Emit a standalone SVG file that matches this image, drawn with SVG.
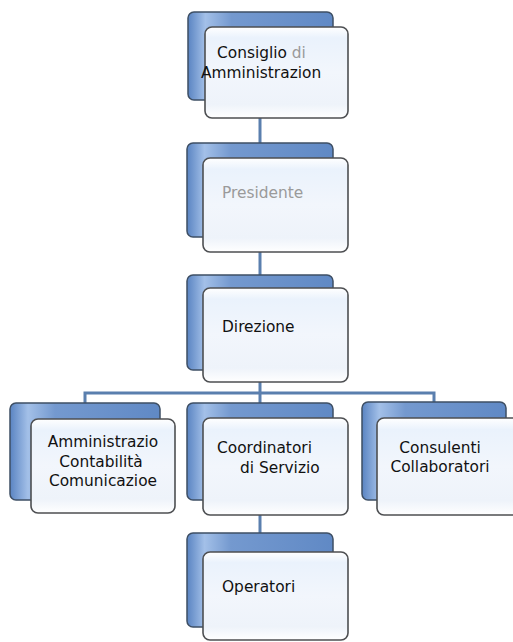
<svg xmlns="http://www.w3.org/2000/svg" width="513" height="642" viewBox="0 0 513 642">
<defs>
<linearGradient id="gb" x1="0" y1="0" x2="1" y2="0">
<stop offset="0" stop-color="#5a84c2"/>
<stop offset="0.12" stop-color="#a3c0e8"/>
<stop offset="0.3" stop-color="#7499cf"/>
<stop offset="1" stop-color="#6089c5"/>
</linearGradient>
<linearGradient id="gf" x1="0" y1="0" x2="0" y2="1">
<stop offset="0" stop-color="#ffffff"/>
<stop offset="0.12" stop-color="#eaf2fc"/>
<stop offset="0.5" stop-color="#f2f6fc"/>
<stop offset="0.85" stop-color="#eef3fa"/>
<stop offset="1" stop-color="#ffffff"/>
</linearGradient>
</defs>
<style>
.back{fill:url(#gb);stroke:#3e4f64;stroke-width:1.5}
.front{fill:url(#gf);stroke:#4d4f52;stroke-width:1.6}
.t{font-family:"DejaVu Sans",Verdana,sans-serif;font-size:15.4px;fill:#111}
.g{fill:#9a9a9a}
.c{stroke:#5a7fae;stroke-width:3;fill:none}
</style>
<rect width="513" height="642" fill="#ffffff"/>
<g id="connectors">
<line class="c" x1="260" y1="117" x2="260" y2="144"/>
<line class="c" x1="260" y1="251" x2="260" y2="276"/>
<line class="c" x1="260" y1="381" x2="260" y2="404"/>
<polyline class="c" points="85,404 85,393 434,393 434,404"/>
<line class="c" x1="260" y1="514" x2="260" y2="534"/>
</g>
<g id="n1">
<rect class="back" x="188" y="12" width="145" height="88" rx="6"/>
<rect class="front" x="205" y="27" width="143" height="91" rx="7"/>
<text class="t" x="217" y="58">Consiglio <tspan class="g">di</tspan></text>
<text class="t" x="201" y="78">Amministrazion</text>
</g>
<g id="n2">
<rect class="back" x="187" y="143" width="146" height="94" rx="6"/>
<rect class="front" x="203" y="158" width="145" height="94" rx="7"/>
<text class="t g" x="222" y="198">Presidente</text>
</g>
<g id="n3">
<rect class="back" x="187" y="275" width="146" height="95" rx="6"/>
<rect class="front" x="203" y="288" width="145" height="94" rx="7"/>
<text class="t" x="222" y="332">Direzione</text>
</g>
<g id="n4">
<rect class="back" x="10" y="403" width="150" height="97" rx="6"/>
<rect class="front" x="31" y="419" width="144" height="94" rx="7"/>
<text class="t" x="103" y="447" text-anchor="middle">Amministrazio</text>
<text class="t" x="101" y="467" text-anchor="middle">Contabilità</text>
<text class="t" x="103" y="486" text-anchor="middle">Comunicazioe</text>
</g>
<g id="n5">
<rect class="back" x="187" y="403" width="146" height="97" rx="6"/>
<rect class="front" x="203" y="418" width="145" height="97" rx="7"/>
<text class="t" x="217" y="453">Coordinatori</text>
<text class="t" x="240" y="473">di Servizio</text>
</g>
<g id="n6">
<rect class="back" x="362" y="402" width="144" height="98" rx="6"/>
<rect class="front" x="377" y="418" width="145" height="97" rx="7"/>
<text class="t" x="440" y="453" text-anchor="middle">Consulenti</text>
<text class="t" x="440" y="472" text-anchor="middle">Collaboratori</text>
</g>
<g id="n7">
<rect class="back" x="187" y="533" width="146" height="94" rx="6"/>
<rect class="front" x="203" y="552" width="145" height="88" rx="7"/>
<text class="t" x="222" y="592">Operatori</text>
</g>
</svg>
